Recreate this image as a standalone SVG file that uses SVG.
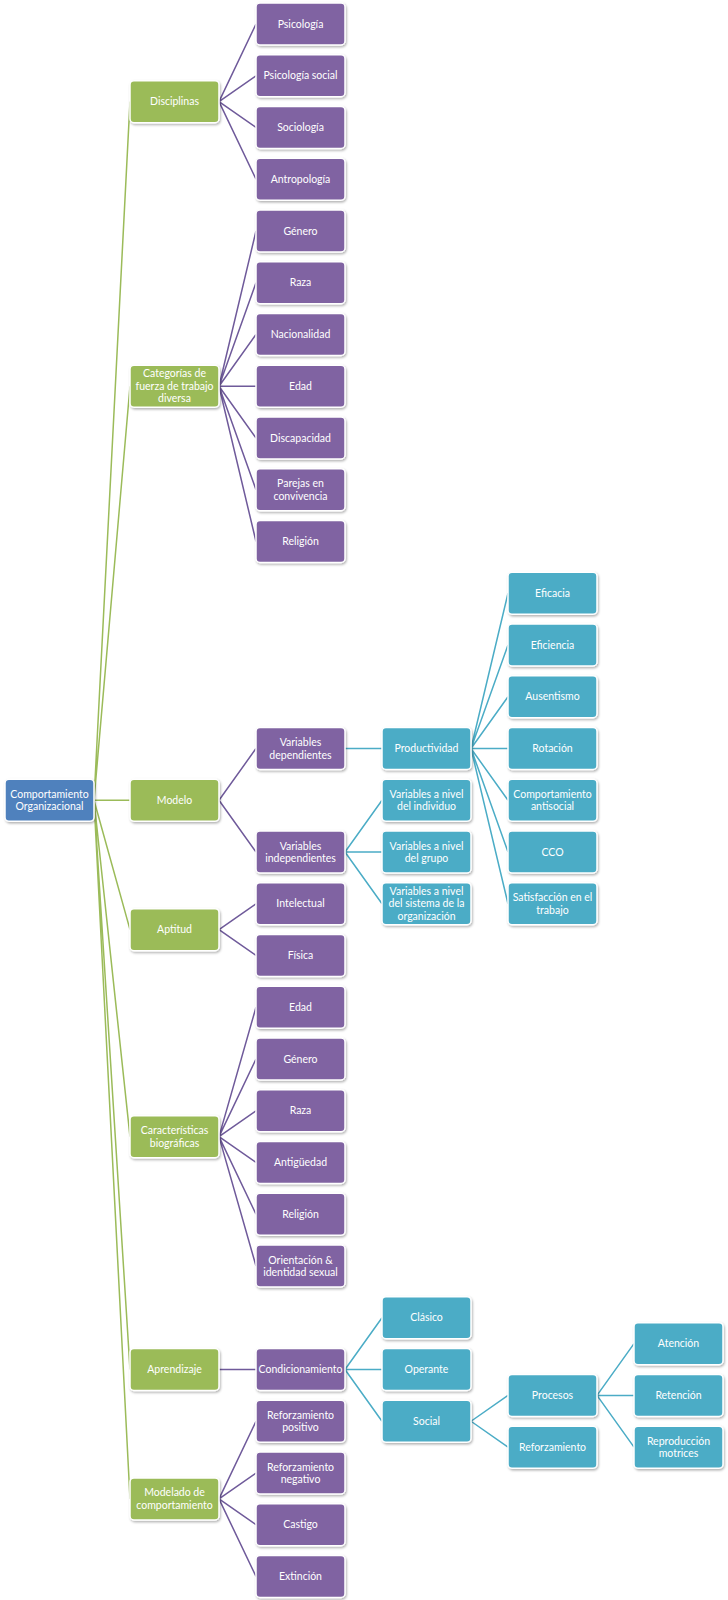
<svg xmlns="http://www.w3.org/2000/svg" width="728" height="1600" viewBox="0 0 728 1600">
<style>
.box{stroke:#ffffff;stroke-width:1.5;filter:url(#sh)}
.g{fill:#9bbb59}.p{fill:#8064a2}.c{fill:#4bacc6}.b{fill:#4f81bd}
text{font-family:Lato,"Liberation Sans",sans-serif;font-size:10.5px;fill:#ffffff;text-anchor:middle}
.lg{stroke:#9bbb59;stroke-width:1.5;fill:none}
.lp{stroke:#6f5a9a;stroke-width:1.5;fill:none}
.lc{stroke:#4bacc6;stroke-width:1.5;fill:none}
</style>
<defs>
<filter id="sh" x="-10%" y="-10%" width="125%" height="130%">
<feDropShadow dx="1" dy="1.5" stdDeviation="0.8" flood-color="#000" flood-opacity="0.3"/>
</filter>
<rect id="r" width="89" height="42" rx="4"/>
</defs>
<rect width="728" height="1600" fill="#ffffff"/>
<g id="connectors">
<path class="lg" d="M94 800.25L130 101.625M94 800.25L130 386.25M94 800.25L130 800.25M94 800.25L130 929.625M94 800.25L130 1136.625M94 800.25L130 1369.5M94 800.25L130 1498.875"/>
<path class="lp" d="M219 101.625L256 24M219 101.625L256 75.75M219 101.625L256 127.5M219 101.625L256 179.25
M219 386.25L256 231M219 386.25L256 282.75M219 386.25L256 334.5M219 386.25L256 386.25M219 386.25L256 438M219 386.25L256 489.75M219 386.25L256 541.5
M219 800.25L256 748.5M219 800.25L256 852
M219 929.625L256 903.75M219 929.625L256 955.5
M219 1136.625L256 1007.25M219 1136.625L256 1059M219 1136.625L256 1110.75M219 1136.625L256 1162.5M219 1136.625L256 1214.25M219 1136.625L256 1266
M219 1369.5L256 1369.5
M219 1498.875L256 1421.25M219 1498.875L256 1473M219 1498.875L256 1524.75M219 1498.875L256 1576.5"/>
<path class="lc" d="M345 748.5L382 748.5
M345 852L382 800.25M345 852L382 852M345 852L382 903.75
M471 748.5L508 593.25M471 748.5L508 645M471 748.5L508 696.75M471 748.5L508 748.5M471 748.5L508 800.25M471 748.5L508 852M471 748.5L508 903.75
M345 1369.5L382 1317.75M345 1369.5L382 1369.5M345 1369.5L382 1421.25
M471 1421.25L508 1395.375M471 1421.25L508 1447.125
M597 1395.375L634 1343.625M597 1395.375L634 1395.375M597 1395.375L634 1447.125"/>
</g>
<g id="root" transform="translate(5,779.25)"><use href="#r" class="box b"/><text x="44.5" y="18.5">Comportamiento</text><text x="44.5" y="31">Organizacional</text></g>
<g id="disciplinas" transform="translate(130,80.625)"><use href="#r" class="box g"/><text x="44.5" y="24.7">Disciplinas</text></g>
<g id="categorias" transform="translate(130,365.25)"><use href="#r" class="box g"/><text x="44.5" y="12.2">Categorías de</text><text x="44.5" y="24.7">fuerza de trabajo</text><text x="44.5" y="37.2">diversa</text></g>
<g id="modelo" transform="translate(130,779.25)"><use href="#r" class="box g"/><text x="44.5" y="24.7">Modelo</text></g>
<g id="aptitud" transform="translate(130,908.625)"><use href="#r" class="box g"/><text x="44.5" y="24.7">Aptitud</text></g>
<g id="caracteristicas" transform="translate(130,1115.625)"><use href="#r" class="box g"/><text x="44.5" y="18.5">Características</text><text x="44.5" y="31">biográficas</text></g>
<g id="aprendizaje" transform="translate(130,1348.5)"><use href="#r" class="box g"/><text x="44.5" y="24.7">Aprendizaje</text></g>
<g id="modelado" transform="translate(130,1477.875)"><use href="#r" class="box g"/><text x="44.5" y="18.5">Modelado de</text><text x="44.5" y="31">comportamiento</text></g>

<g id="psicologia" transform="translate(256,3)"><use href="#r" class="box p"/><text x="44.5" y="24.7">Psicología</text></g>
<g id="psicologia-social" transform="translate(256,54.75)"><use href="#r" class="box p"/><text x="44.5" y="24.7">Psicología social</text></g>
<g id="sociologia" transform="translate(256,106.5)"><use href="#r" class="box p"/><text x="44.5" y="24.7">Sociología</text></g>
<g id="antropologia" transform="translate(256,158.25)"><use href="#r" class="box p"/><text x="44.5" y="24.7">Antropología</text></g>
<g id="genero1" transform="translate(256,210)"><use href="#r" class="box p"/><text x="44.5" y="24.7">Género</text></g>
<g id="raza1" transform="translate(256,261.75)"><use href="#r" class="box p"/><text x="44.5" y="24.7">Raza</text></g>
<g id="nacionalidad" transform="translate(256,313.5)"><use href="#r" class="box p"/><text x="44.5" y="24.7">Nacionalidad</text></g>
<g id="edad1" transform="translate(256,365.25)"><use href="#r" class="box p"/><text x="44.5" y="24.7">Edad</text></g>
<g id="discapacidad" transform="translate(256,417)"><use href="#r" class="box p"/><text x="44.5" y="24.7">Discapacidad</text></g>
<g id="parejas" transform="translate(256,468.75)"><use href="#r" class="box p"/><text x="44.5" y="18.5">Parejas en</text><text x="44.5" y="31">convivencia</text></g>
<g id="religion1" transform="translate(256,520.5)"><use href="#r" class="box p"/><text x="44.5" y="24.7">Religión</text></g>
<g id="var-dep" transform="translate(256,727.5)"><use href="#r" class="box p"/><text x="44.5" y="18.5">Variables</text><text x="44.5" y="31">dependientes</text></g>
<g id="var-indep" transform="translate(256,831)"><use href="#r" class="box p"/><text x="44.5" y="18.5">Variables</text><text x="44.5" y="31">independientes</text></g>
<g id="intelectual" transform="translate(256,882.75)"><use href="#r" class="box p"/><text x="44.5" y="24.7">Intelectual</text></g>
<g id="fisica" transform="translate(256,934.5)"><use href="#r" class="box p"/><text x="44.5" y="24.7">Física</text></g>
<g id="edad2" transform="translate(256,986.25)"><use href="#r" class="box p"/><text x="44.5" y="24.7">Edad</text></g>
<g id="genero2" transform="translate(256,1038)"><use href="#r" class="box p"/><text x="44.5" y="24.7">Género</text></g>
<g id="raza2" transform="translate(256,1089.75)"><use href="#r" class="box p"/><text x="44.5" y="24.7">Raza</text></g>
<g id="antiguedad" transform="translate(256,1141.5)"><use href="#r" class="box p"/><text x="44.5" y="24.7">Antigüedad</text></g>
<g id="religion2" transform="translate(256,1193.25)"><use href="#r" class="box p"/><text x="44.5" y="24.7">Religión</text></g>
<g id="orientacion" transform="translate(256,1245)"><use href="#r" class="box p"/><text x="44.5" y="18.5">Orientación &amp;</text><text x="44.5" y="31">identidad sexual</text></g>
<g id="condicionamiento" transform="translate(256,1348.5)"><use href="#r" class="box p"/><text x="44.5" y="24.7">Condicionamiento</text></g>
<g id="ref-pos" transform="translate(256,1400.25)"><use href="#r" class="box p"/><text x="44.5" y="18.5">Reforzamiento</text><text x="44.5" y="31">positivo</text></g>
<g id="ref-neg" transform="translate(256,1452)"><use href="#r" class="box p"/><text x="44.5" y="18.5">Reforzamiento</text><text x="44.5" y="31">negativo</text></g>
<g id="castigo" transform="translate(256,1503.75)"><use href="#r" class="box p"/><text x="44.5" y="24.7">Castigo</text></g>
<g id="extincion" transform="translate(256,1555.5)"><use href="#r" class="box p"/><text x="44.5" y="24.7">Extinción</text></g>

<g id="productividad" transform="translate(382,727.5)"><use href="#r" class="box c"/><text x="44.5" y="24.7">Productividad</text></g>
<g id="var-individuo" transform="translate(382,779.25)"><use href="#r" class="box c"/><text x="44.5" y="18.5">Variables a nivel</text><text x="44.5" y="31">del individuo</text></g>
<g id="var-grupo" transform="translate(382,831)"><use href="#r" class="box c"/><text x="44.5" y="18.5">Variables a nivel</text><text x="44.5" y="31">del grupo</text></g>
<g id="var-sistema" transform="translate(382,882.75)"><use href="#r" class="box c"/><text x="44.5" y="12.2">Variables a nivel</text><text x="44.5" y="24.7">del sistema de la</text><text x="44.5" y="37.2">organización</text></g>
<g id="clasico" transform="translate(382,1296.75)"><use href="#r" class="box c"/><text x="44.5" y="24.7">Clásico</text></g>
<g id="operante" transform="translate(382,1348.5)"><use href="#r" class="box c"/><text x="44.5" y="24.7">Operante</text></g>
<g id="social" transform="translate(382,1400.25)"><use href="#r" class="box c"/><text x="44.5" y="24.7">Social</text></g>

<g id="eficacia" transform="translate(508,572.25)"><use href="#r" class="box c"/><text x="44.5" y="24.7">Eficacia</text></g>
<g id="eficiencia" transform="translate(508,624)"><use href="#r" class="box c"/><text x="44.5" y="24.7">Eficiencia</text></g>
<g id="ausentismo" transform="translate(508,675.75)"><use href="#r" class="box c"/><text x="44.5" y="24.7">Ausentismo</text></g>
<g id="rotacion" transform="translate(508,727.5)"><use href="#r" class="box c"/><text x="44.5" y="24.7">Rotación</text></g>
<g id="antisocial" transform="translate(508,779.25)"><use href="#r" class="box c"/><text x="44.5" y="18.5">Comportamiento</text><text x="44.5" y="31">antisocial</text></g>
<g id="cco" transform="translate(508,831)"><use href="#r" class="box c"/><text x="44.5" y="24.7">CCO</text></g>
<g id="satisfaccion" transform="translate(508,882.75)"><use href="#r" class="box c"/><text x="44.5" y="18.5">Satisfacción en el</text><text x="44.5" y="31">trabajo</text></g>
<g id="procesos" transform="translate(508,1374.375)"><use href="#r" class="box c"/><text x="44.5" y="24.7">Procesos</text></g>
<g id="reforzamiento" transform="translate(508,1426.125)"><use href="#r" class="box c"/><text x="44.5" y="24.7">Reforzamiento</text></g>

<g id="atencion" transform="translate(634,1322.625)"><use href="#r" class="box c"/><text x="44.5" y="24.7">Atención</text></g>
<g id="retencion" transform="translate(634,1374.375)"><use href="#r" class="box c"/><text x="44.5" y="24.7">Retención</text></g>
<g id="reproduccion" transform="translate(634,1426.125)"><use href="#r" class="box c"/><text x="44.5" y="18.5">Reproducción</text><text x="44.5" y="31">motrices</text></g>
</svg>
